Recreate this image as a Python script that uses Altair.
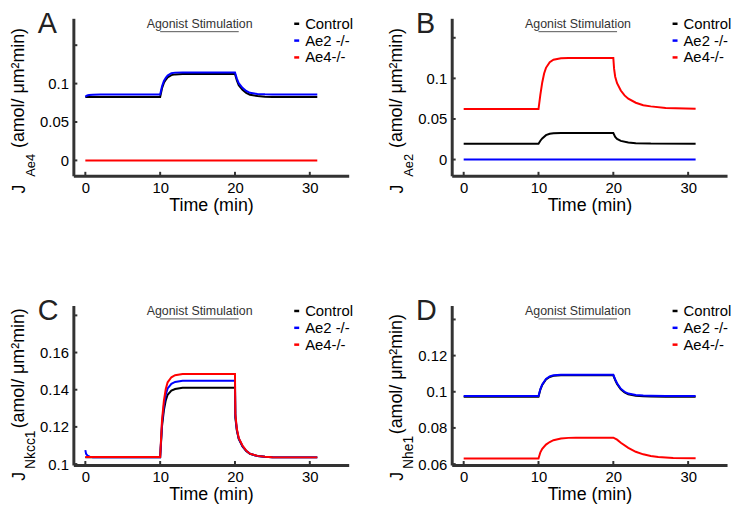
import altair as alt
import pandas as pd

FONT = "Liberation Sans"
AX = "#333333"
SERIES = ["Control", "Ae2 -/-", "Ae4-/-"]
COLORS = ["#000000", "#0000ff", "#ff0000"]
XTICKS = [0, 10, 20, 30]
XDOM = [-1.6, 35.2]

# ---------------- Panel A : J_Ae4 ----------------
A_ctrl_t = [0, 10, 10.25, 10.5, 10.75, 11, 11.5, 12, 13, 20, 20.25, 20.5, 21, 21.5, 22, 23, 24, 25, 27, 31]
A_ctrl_v = [0.0825, 0.0825, 0.094, 0.101, 0.105, 0.108, 0.111, 0.112, 0.1124, 0.1124, 0.104, 0.098, 0.092,
            0.088, 0.0855, 0.0838, 0.083, 0.0827, 0.0825, 0.0825]
A_ae2_t = [0, 0.25, 0.5, 1, 2, 10, 10.25, 10.5, 10.75, 11, 11.5, 12, 13, 20, 20.25, 20.5, 21, 21.5, 22, 23, 24, 25, 27, 31]
A_ae2_v = [0.0830, 0.0845, 0.0852, 0.0855, 0.0857, 0.0857, 0.0965, 0.1035, 0.1075, 0.1105, 0.1135, 0.1143,
           0.1146, 0.1146, 0.1065, 0.1005, 0.0945, 0.0905, 0.088, 0.0866, 0.086, 0.0858, 0.0857, 0.0857]
A_ae4_t = [0, 31]
A_ae4_v = [0.0, 0.0]
A_yticks = [0, 0.05, 0.1, 0.15]

# ---------------- Panel B : J_Ae2 ----------------
B_ctrl_t = [0, 10, 10.25, 10.5, 11, 11.5, 12, 13, 20, 20.25, 20.5, 21, 22, 23, 25, 31]
B_ctrl_v = [0.0195, 0.0195, 0.0232, 0.026, 0.030, 0.0318, 0.0324, 0.0326, 0.0326, 0.028, 0.0255, 0.023,
            0.021, 0.0202, 0.0197, 0.0195]
B_ae2_t = [0, 31]
B_ae2_v = [0.0, 0.0]
B_ae4_t = [0, 10, 10.25, 10.5, 10.75, 11, 11.5, 12, 13, 14, 20, 20.1, 20.25, 20.5, 21, 21.5, 22, 23, 24, 25, 27, 31]
B_ae4_v = [0.0622, 0.0622, 0.080, 0.095, 0.106, 0.113, 0.120, 0.123, 0.1248, 0.1252, 0.1252, 0.112, 0.102,
           0.094, 0.085, 0.079, 0.075, 0.070, 0.067, 0.0655, 0.0635, 0.0625]
B_yticks = [0, 0.05, 0.1, 0.15]

# ---------------- Panel C : J_Nkcc1 ----------------
C_ctrl_t = [0, 10, 10.25, 10.5, 10.75, 11, 11.5, 12, 13, 20, 20.05, 20.25, 20.5, 21, 21.5, 22, 23, 24, 25, 27, 31]
C_ctrl_v = [0.1036, 0.1036, 0.1204, 0.1290, 0.1343, 0.1373, 0.1395, 0.1404, 0.141, 0.141, 0.125, 0.118,
            0.1135, 0.1095, 0.107, 0.1055, 0.1043, 0.1039, 0.1037, 0.1036, 0.1036]
C_ae2_t = [0, 0.1, 0.3, 0.6, 1, 10, 10.25, 10.5, 10.75, 11, 11.5, 12, 13, 20, 20.05, 20.25, 20.5, 21, 21.5,
           22, 23, 24, 25, 27, 31]
C_ae2_v = [0.1075, 0.1055, 0.1045, 0.104, 0.1037, 0.1036, 0.1221, 0.1316, 0.1374, 0.1407, 0.1432, 0.1442,
           0.1448, 0.1448, 0.126, 0.1185, 0.1138, 0.1097, 0.1071, 0.1056, 0.1043, 0.1039, 0.1037, 0.1036, 0.1036]
C_ae4_t = [0, 10, 10.25, 10.5, 10.75, 11, 11.5, 12, 13, 20, 20.05, 20.25, 20.5, 21, 21.5, 22, 23, 24, 25, 27, 31]
C_ae4_v = [0.1038, 0.1038, 0.1238, 0.1341, 0.1404, 0.1440, 0.1467, 0.1478, 0.1485, 0.1485, 0.127, 0.119,
           0.114, 0.110, 0.1072, 0.1056, 0.1044, 0.1039, 0.1037, 0.1036, 0.1036]
C_yticks = [0.1, 0.12, 0.14, 0.16, 0.18]

# ---------------- Panel D : J_Nhe1 ----------------
D_ctrl_t = [0, 10, 10.25, 10.5, 11, 11.5, 12, 13, 20, 20.25, 20.5, 21, 21.5, 22, 23, 24, 25, 27, 31]
D_ctrl_v = [0.0973, 0.0973, 0.1012, 0.1038, 0.1068, 0.1082, 0.1088, 0.1091, 0.1091, 0.1065, 0.1043, 0.1013,
            0.0996, 0.0986, 0.0978, 0.0975, 0.0974, 0.0973, 0.0973]
D_ae2_t = [0, 10, 10.25, 10.5, 11, 11.5, 12, 13, 20, 20.25, 20.5, 21, 21.5, 22, 23, 24, 25, 27, 31]
D_ae2_v = [0.0977, 0.0977, 0.1015, 0.1041, 0.1071, 0.1085, 0.1091, 0.1094, 0.1094, 0.1068, 0.1047, 0.1017,
           0.1000, 0.0990, 0.0982, 0.0979, 0.0978, 0.0977, 0.0977]
D_ae4_t = [0, 10, 10.25, 10.5, 11, 11.5, 12, 13, 14, 15, 20, 20.5, 21, 22, 23, 24, 25, 26, 28, 31]
D_ae4_v = [0.0631, 0.0631, 0.0665, 0.0685, 0.0708, 0.0722, 0.0732, 0.0741, 0.0745, 0.0746, 0.0746, 0.0735,
           0.0718, 0.0690, 0.0668, 0.0654, 0.0645, 0.0639, 0.0634, 0.0632]
D_yticks = [0.06, 0.08, 0.1, 0.12, 0.14]

UNITS = "(amol/ μm²min)"
W = 278
ONE = pd.DataFrame({"a": [0]})


def long_df(pairs):
    rows = []
    for name, (t, v) in zip(SERIES, pairs):
        for tt, vv in zip(t, v):
            rows.append({"t": tt, "v": vv, "series": name})
    return pd.DataFrame(rows)


def txt(text, x, y, size, angle=0, align="left", color="black"):
    kw = dict(text=text, fontSize=size, font=FONT, align=align, baseline="alphabetic", color=color)
    if angle:
        kw["angle"] = angle
    return alt.Chart(ONE).mark_text(**kw).encode(x=alt.value(x), y=alt.value(y))


def panel(letter, pairs, ydom, yticks, hide, H, title_parts, anchor=False):
    xs = alt.Scale(domain=XDOM, nice=False, zero=False)
    ys = alt.Scale(domain=ydom, nice=False, zero=False)
    xax = alt.Axis(values=XTICKS, title="Time (min)", labelPadding=5, titlePadding=1, labelFlush=False,
                   titleFontWeight="normal", titleFontSize=18, titleFont=FONT)
    yax = alt.Axis(values=yticks, title=None, labelPadding=5, labelFlush=False,
                   labelExpr="abs(datum.value - %s) < 1e-9 ? '' : format(datum.value, '~g')" % hide)
    df = long_df(pairs)
    lines = alt.Chart(df).mark_line(strokeWidth=2).encode(
        x=alt.X("t:Q", scale=xs, axis=xax),
        y=alt.Y("v:Q", scale=ys, axis=yax),
        color=alt.Color("series:N", scale=alt.Scale(domain=SERIES, range=COLORS),
                        legend=alt.Legend(title=None, orient="none", legendX=218, legendY=-2,
                                          symbolType="stroke", symbolSize=25, symbolStrokeWidth=2.5,
                                          labelFont=FONT, labelFontSize=15, labelColor="black",
                                          labelOffset=1, rowPadding=1, padding=0, labelLimit=200)),
    )
    ytk = alt.Chart(pd.DataFrame({"v": yticks})).mark_rule(color=AX, strokeWidth=2).encode(
        y=alt.Y("v:Q", scale=ys, axis=yax), x=alt.value(0), x2=alt.value(4))
    xtk = alt.Chart(pd.DataFrame({"t": XTICKS})).mark_rule(color=AX, strokeWidth=2).encode(
        x=alt.X("t:Q", scale=xs, axis=xax), y=alt.value(H), y2=alt.value(H - 4))
    under = alt.Chart(ONE).mark_rule(color="#555555", strokeWidth=1).encode(
        x=alt.datum(10), x2=alt.datum(20.5), y=alt.value(13.5))
    ago = txt("Agonist Stimulation", 127.5, 10, 12.5, align="center", color="#333333")
    let = txt(letter, -36, 15, 29, color="#222222")
    parts = [txt(s, x, y, f, angle=270) for (s, x, y, f) in title_parts]
    layers = [lines, ytk, xtk, under, ago, let] + parts
    if anchor:
        # invisible anchor that fixes the top-left corner of the drawing
        layers.append(alt.Chart(ONE).mark_rule(opacity=0, strokeWidth=0).encode(
            x=alt.value(-66), x2=alt.value(-66), y=alt.value(-8), y2=alt.value(0)))
    return alt.layer(*layers).properties(width=W, height=H)


title_A = [("J", -49, 177, 18), ("Ae4", -39, 160, 13), (UNITS, -50, 131, 18)]
title_B = [("J", -49, 177, 18), ("Ae2", -39, 160, 13), (UNITS, -50, 131, 18)]
title_C = [("J", -49, 177, 18), ("Nkcc1", -39, 165, 14), (UNITS, -50, 124, 18)]
title_D = [("J", -49, 177, 18), ("Nhe1", -39, 165, 14), (UNITS, -50, 130, 18)]

pA = panel("A", [(A_ctrl_t, A_ctrl_v), (A_ae2_t, A_ae2_v), (A_ae4_t, A_ae4_v)], [-0.02, 0.185], A_yticks, 0.15, 159, title_A, anchor=True)
pB = panel("B", [(B_ctrl_t, B_ctrl_v), (B_ae2_t, B_ae2_v), (B_ae4_t, B_ae4_v)], [-0.02, 0.174], B_yticks, 0.15, 159, title_B)
pC = panel("C", [(C_ctrl_t, C_ctrl_v), (C_ae2_t, C_ae2_v), (C_ae4_t, C_ae4_v)], [0.0995, 0.1853], C_yticks, 0.18, 161, title_C)
pD = panel("D", [(D_ctrl_t, D_ctrl_v), (D_ae2_t, D_ae2_v), (D_ae4_t, D_ae4_v)], [0.0595, 0.1477], D_yticks, 0.14, 161, title_D)

chart = alt.concat(pA, pB, pC, pD, columns=2, spacing={"row": 131, "column": 104}, bounds="flush")
chart = chart.resolve_scale(color="independent")
chart = chart.properties(padding=0, background="white").configure_view(stroke=None).configure_axis(
    grid=False, domainColor=AX, domainWidth=3, ticks=False, tickSize=0,
    labelFont=FONT, labelFontSize=15, labelColor="black",
    titleFont=FONT, titleFontSize=18, titleFontWeight="normal", titleColor="black")

chart.save("out.html", embed_options={"renderer": "svg", "actions": False})
